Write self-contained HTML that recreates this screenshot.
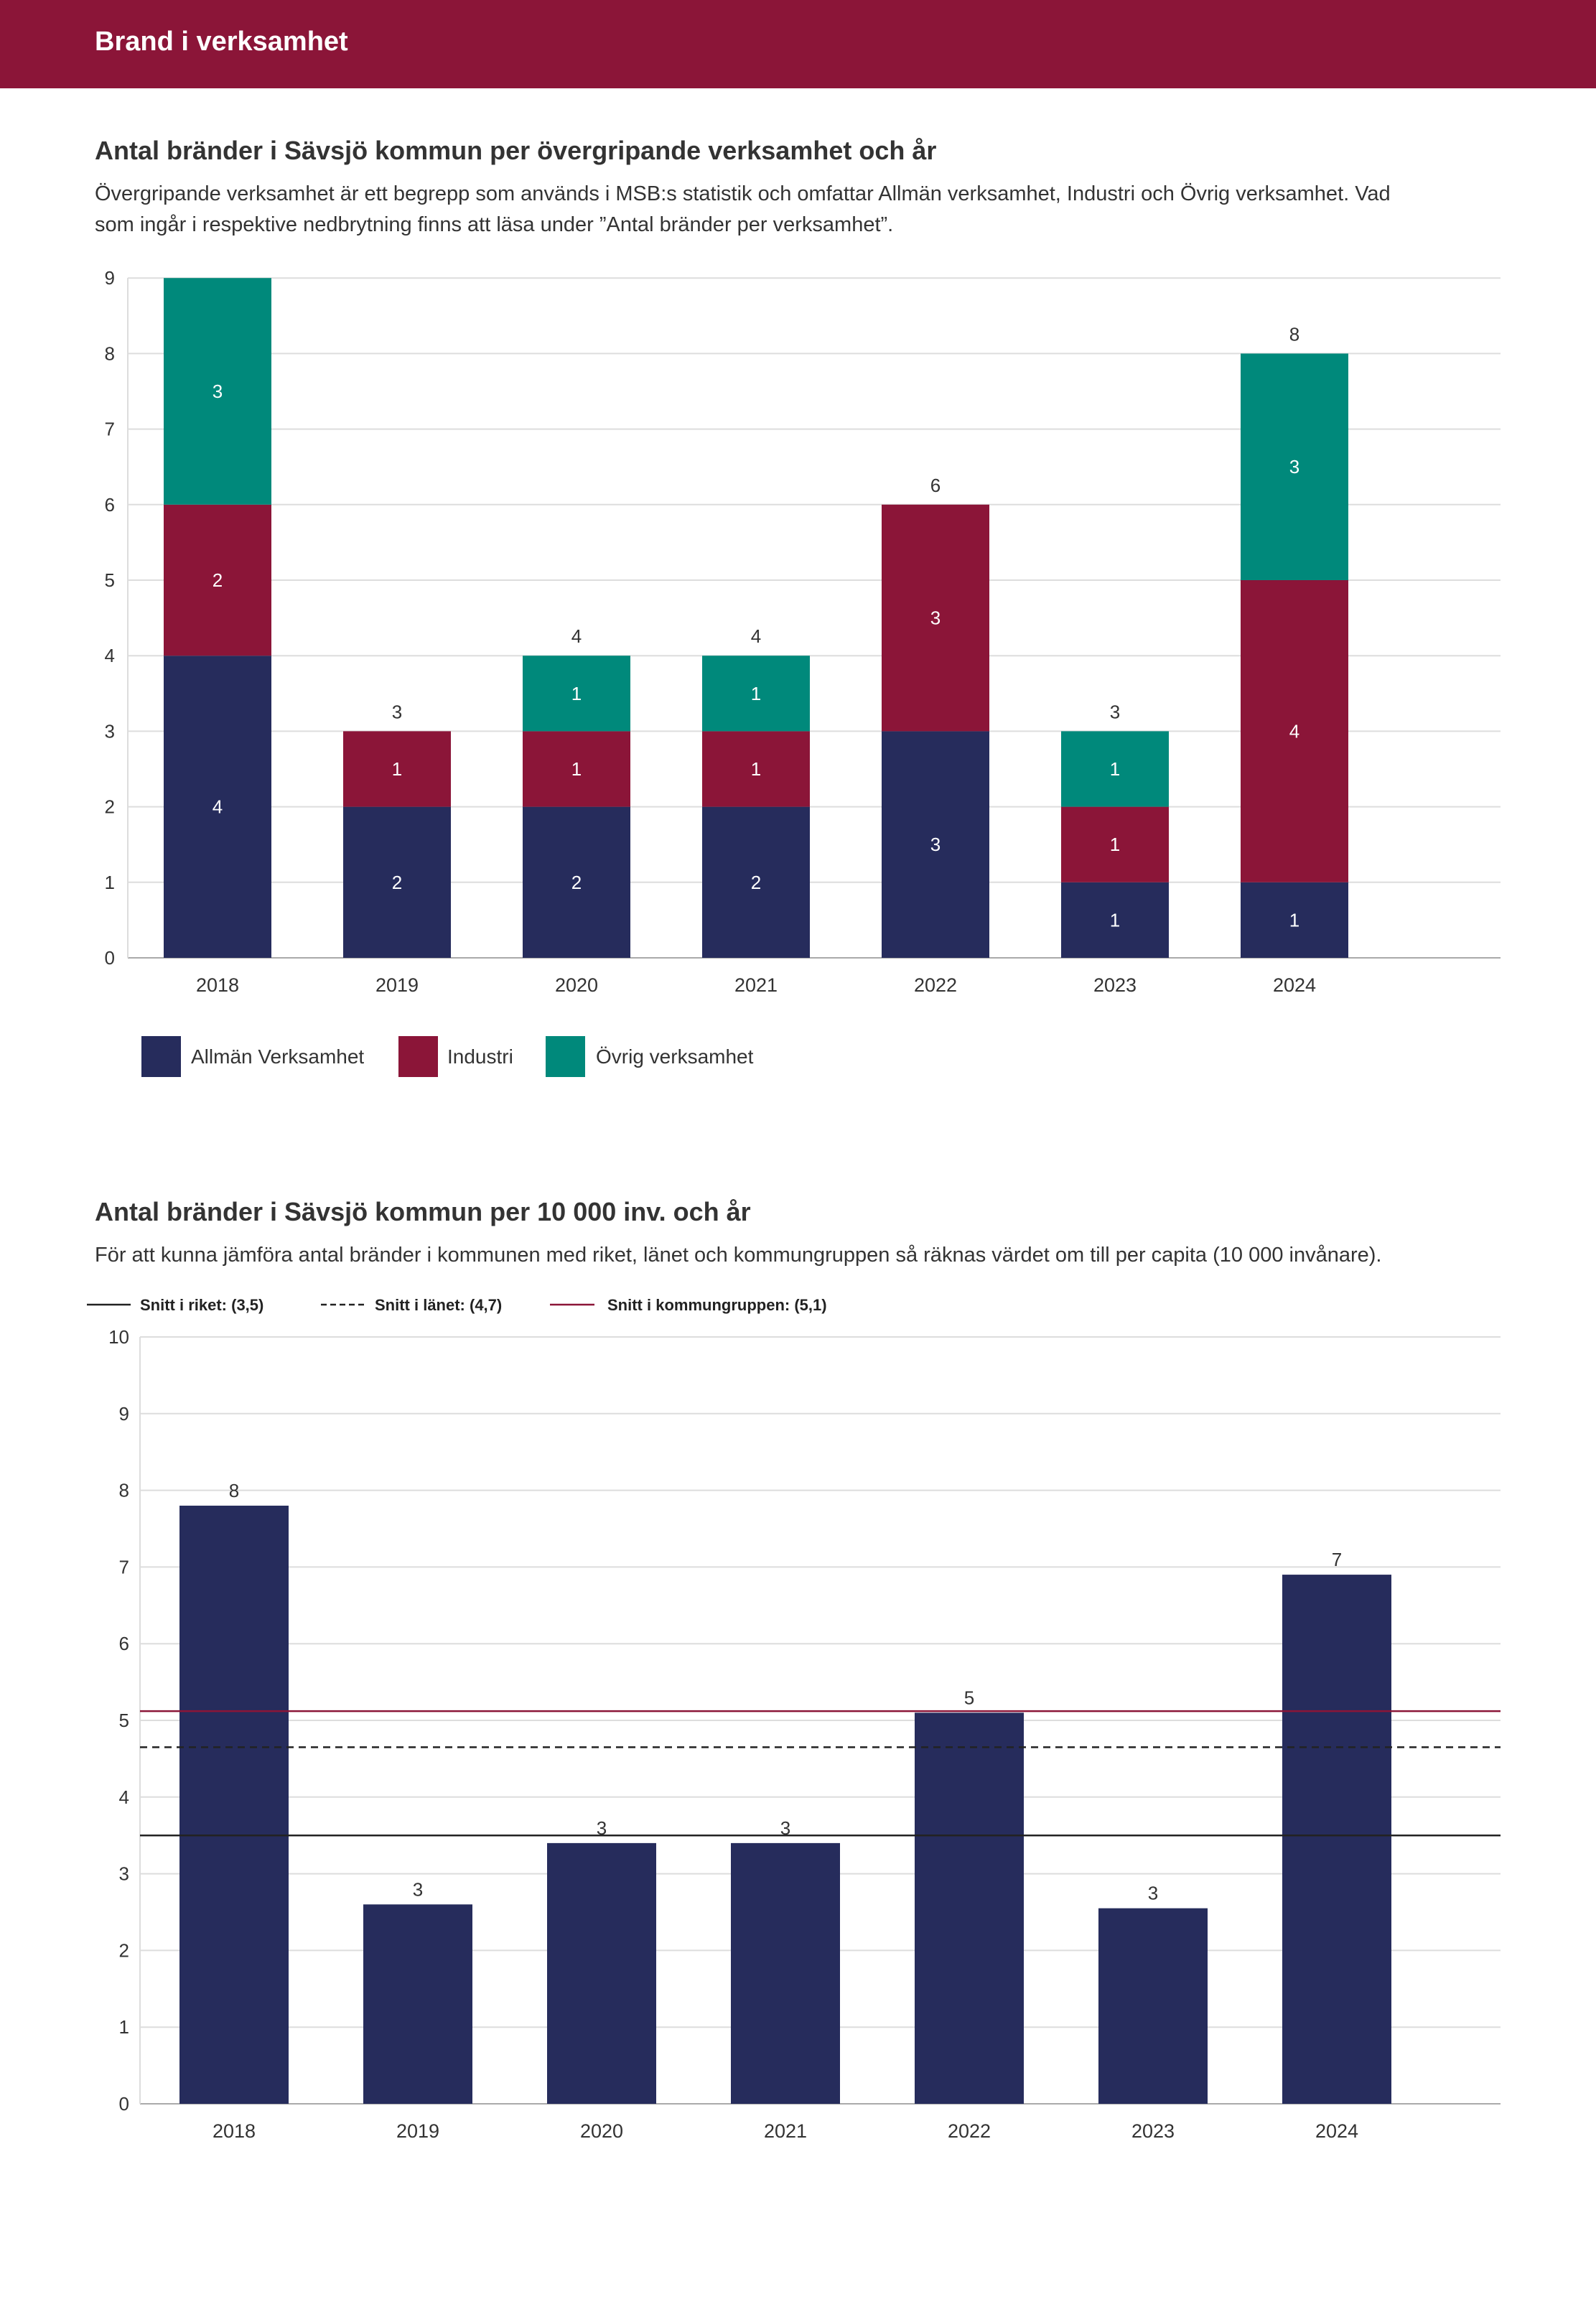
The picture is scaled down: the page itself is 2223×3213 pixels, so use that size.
<!DOCTYPE html>
<html><head><meta charset="utf-8"><style>
html,body{margin:0;padding:0;background:#fff}
svg{display:block}
text{font-family:"Liberation Sans",sans-serif}
</style></head><body>
<svg id="s" width="2223" height="3213" viewBox="0 0 2223 3213" xmlns="http://www.w3.org/2000/svg">
<rect x="0" y="0" width="2223" height="123" fill="#8b1538"/>
<text x="132" y="70" fill="#fff" font-size="38" font-weight="bold">Brand i verksamhet</text>
<text x="132" y="222" fill="#333" font-size="36" font-weight="bold">Antal bränder i Sävsjö kommun per övergripande verksamhet och år</text>
<text x="132" y="279" fill="#333" font-size="29">Övergripande verksamhet är ett begrepp som används i MSB:s statistik och omfattar Allmän verksamhet, Industri och Övrig verksamhet. Vad</text>
<text x="132" y="322" fill="#333" font-size="29">som ingår i respektive nedbrytning finns att läsa under ”Antal bränder per verksamhet”.</text>
<g id="c1"></g>
<g>
<rect x="197" y="1443" width="55" height="57" fill="#262c5c"/>
<text x="266" y="1481" font-size="28" fill="#333">Allmän Verksamhet</text>
<rect x="555" y="1443" width="55" height="57" fill="#8b1538"/>
<text x="623" y="1481" font-size="28" fill="#333">Industri</text>
<rect x="760" y="1443" width="55" height="57" fill="#00897b"/>
<text x="830" y="1481" font-size="28" fill="#333">Övrig verksamhet</text>
</g>
<text x="132" y="1700" fill="#333" font-size="36" font-weight="bold">Antal bränder i Sävsjö kommun per 10 000 inv. och år</text>
<text x="132" y="1757" fill="#333" font-size="29">För att kunna jämföra antal bränder i kommunen med riket, länet och kommungruppen så räknas värdet om till per capita (10 000 invånare).</text>
<g font-size="22" font-weight="bold" fill="#222">
<line x1="121" y1="1817" x2="182" y2="1817" stroke="#222" stroke-width="2.5"/>
<text x="195" y="1825">Snitt i riket: (3,5)</text>
<line x1="447" y1="1817" x2="508" y2="1817" stroke="#222" stroke-width="2.5" stroke-dasharray="8,5"/>
<text x="522" y="1825">Snitt i länet: (4,7)</text>
<line x1="766" y1="1817" x2="828" y2="1817" stroke="#8b1538" stroke-width="2.5"/>
<text x="846" y="1825">Snitt i kommungruppen: (5,1)</text>
</g>
<g id="c2"></g>
</svg>
<script>
const years=["2018","2019","2020","2021","2022","2023","2024"];
const allman=[4,2,2,2,3,1,1];
const industri=[2,1,1,1,3,1,4];
const ovrig=[3,0,1,1,0,1,3];
const c1Ticks=[0,1,2,3,4,5,6,7,8,9];
const perCapita=[7.8,2.6,3.4,3.4,5.1,2.55,6.9];
const perCapitaLabels=["8","3","3","3","5","3","7"];
const c2Ticks=[0,1,2,3,4,5,6,7,8,9,10];
const avgRiket=3.5, avgLanet=4.65, avgGrupp=5.12;
const NS="http://www.w3.org/2000/svg";
function mk(p,t,a,txt){const e=document.createElementNS(NS,t);for(const k in a)e.setAttribute(k,a[k]);if(txt!==undefined)e.textContent=txt;p.appendChild(e);return e;}
// chart 1
const g1=document.getElementById('c1');
const y1=v=>1334-v*105.2, x1=i=>303+i*250, bw1=150;
c1Ticks.forEach(t=>{
 const l=mk(g1,'line',{x1:178,x2:2090,y1:y1(t),y2:y1(t),stroke:t===0?'#aaa':'#ddd','stroke-width':2});
 
 
 const tx=mk(g1,'text',{x:160,y:y1(t)+9,'text-anchor':'end','font-size':26,fill:'#333'},t);
 
 
});
mk(g1,'line',{x1:178,x2:178,y1:387,y2:1334,stroke:'#ddd','stroke-width':2});
const series=[[allman,'#262c5c','allman'],[industri,'#8b1538','industri'],[ovrig,'#00897b','ovrig']];
years.forEach((yr,i)=>{
 let base=0;
 series.forEach(([arr,col,nm])=>{
  const v=arr[i]; if(!v)return;
  const r=mk(g1,'rect',{x:x1(i)-bw1/2,y:y1(base+v),width:bw1,height:v*105.2,fill:col});
  
  
  const t=mk(g1,'text',{x:x1(i),y:y1(base+v/2)+9,'text-anchor':'middle','font-size':26,fill:'#fff'},v);
  
  
  base+=v;
 });
 if(i>0){const t=mk(g1,'text',{x:x1(i),y:y1(base)-18,'text-anchor':'middle','font-size':26,fill:'#333'},base);
  
  }
 const xl=mk(g1,'text',{x:x1(i),y:1381,'text-anchor':'middle','font-size':27,fill:'#333'},yr);
 
 
});
// chart 2
const g2=document.getElementById('c2');
const y2=v=>2930-v*106.8, x2=i=>326+i*256, bw2=152;
c2Ticks.forEach(t=>{
 const l=mk(g2,'line',{x1:195,x2:2090,y1:y2(t),y2:y2(t),stroke:t===0?'#aaa':'#ddd','stroke-width':2});
 
 
 const tx=mk(g2,'text',{x:180,y:y2(t)+9,'text-anchor':'end','font-size':26,fill:'#333'},t);
 
 
});
mk(g2,'line',{x1:195,x2:195,y1:1862,y2:2930,stroke:'#ddd','stroke-width':2});
years.forEach((yr,i)=>{
 const v=perCapita[i];
 const r=mk(g2,'rect',{x:x2(i)-bw2/2,y:y2(v),width:bw2,height:v*106.8,fill:'#262c5c'});
 
 
 const t=mk(g2,'text',{x:x2(i),y:y2(v)-12,'text-anchor':'middle','font-size':26,fill:'#333'},perCapitaLabels[i]);
 
 
 const xl=mk(g2,'text',{x:x2(i),y:2977,'text-anchor':'middle','font-size':27,fill:'#333'},yr);
 
 
});
const lr=mk(g2,'line',{x1:195,x2:2090,y1:y2(avgRiket),y2:y2(avgRiket),stroke:'#222','stroke-width':2.5});


const ll=mk(g2,'line',{x1:195,x2:2090,y1:y2(avgLanet),y2:y2(avgLanet),stroke:'#222','stroke-width':2.5,'stroke-dasharray':'10,7'});


const lg=mk(g2,'line',{x1:195,x2:2090,y1:y2(avgGrupp),y2:y2(avgGrupp),stroke:'#8b1538','stroke-width':2.5});


</script>
</body></html>
